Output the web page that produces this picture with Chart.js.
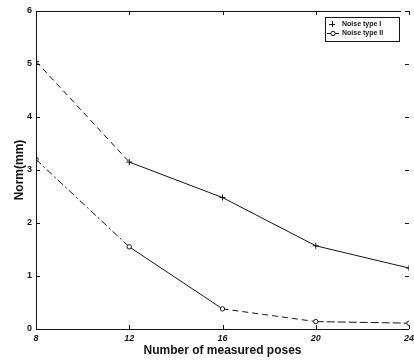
<!DOCTYPE html>
<html><head><meta charset="utf-8">
<script src="https://cdn.jsdelivr.net/npm/chart.js@4"></script>
<style>html,body{margin:0;padding:0;background:#fff}#wrap{width:414px;height:360px}</style>
</head><body><div id="wrap"><canvas id="c" width="414" height="360"></canvas></div>
<script>
const poses = [8, 12, 16, 20, 24];
const noiseTypeI = [5.05, 3.15, 2.48, 1.57, 1.15];
const noiseTypeII = [3.2, 1.55, 0.38, 0.14, 0.11];
const seriesNames = ['Noise type I', 'Noise type II'];
const yTicks = [0, 1, 2, 3, 4, 5, 6];
const xTicks = [8, 12, 16, 20, 24];

const INK = '#151515';
const F = 'Liberation Sans, Arial, sans-serif';

const dashI = [[6,4], [], [], []];
const dashII = [[7,3,2,3], [], [6,4], [8,3]];

const framePlugin = {
  id: 'frame',
  afterDatasetsDraw(chart) {
    const {ctx, chartArea: a, scales: {x, y}} = chart;
    ctx.save();
    ctx.strokeStyle = INK; ctx.lineWidth = 1;
    ctx.beginPath();
    ctx.moveTo(a.left + 0.5, a.bottom + 0.5); ctx.lineTo(a.left + 0.5, a.top + 0.5);
    ctx.lineTo(a.right - 8, a.top + 0.5);
    ctx.moveTo(a.left, a.bottom + 0.5); ctx.lineTo(a.right, a.bottom + 0.5);
    const L = 4;
    xTicks.forEach(v => {
      const px = Math.round(x.getPixelForValue(v)) + 0.5;
      ctx.moveTo(px, a.bottom); ctx.lineTo(px, a.bottom - L);
      ctx.moveTo(px, a.top); ctx.lineTo(px, a.top + L);
    });
    yTicks.forEach(v => {
      const py = Math.round(y.getPixelForValue(v)) + 0.5;
      ctx.moveTo(a.left, py); ctx.lineTo(a.left + L, py);
      ctx.moveTo(a.right, py); ctx.lineTo(a.right - L, py);
    });
    ctx.stroke();

    // legend
    const bx = 325, by = 17, bw = 74, bh = 24;
    ctx.fillStyle = '#fff';
    ctx.fillRect(bx, by, bw, bh);
    ctx.strokeRect(bx + 0.5, by + 0.5, bw, bh);
    ctx.font = 'bold 7px ' + F;
    ctx.fillStyle = INK;
    ctx.textBaseline = 'middle';
    const r1 = by + 7, r2 = by + 16;
    ctx.beginPath();
    ctx.moveTo(332 - 3, r1 + 0.5); ctx.lineTo(332 + 3, r1 + 0.5);
    ctx.moveTo(332.5, r1 - 3); ctx.lineTo(332.5, r1 + 3);
    ctx.moveTo(327, r2 + 0.5); ctx.lineTo(339, r2 + 0.5);
    ctx.stroke();
    ctx.beginPath(); ctx.arc(333, r2 + 0.5, 2.2, 0, Math.PI * 2);
    ctx.fillStyle = '#fff'; ctx.fill(); ctx.stroke();
    ctx.fillStyle = INK;
    ctx.fillText(seriesNames[0], 342, r1);
    ctx.fillText(seriesNames[1], 342, r2);
    ctx.restore();
  }
};

new Chart(document.getElementById('c'), {
  type: 'line',
  data: {
    datasets: [
      {
        label: seriesNames[0],
        data: poses.map((p, i) => ({x: p, y: noiseTypeI[i]})),
        borderColor: INK, borderWidth: 1, backgroundColor: INK,
        pointStyle: 'cross', pointRadius: 3, pointBorderWidth: 1,
        tension: 0, fill: false,
        segment: { borderDash: c => dashI[c.p0DataIndex] }
      },
      {
        label: seriesNames[1],
        data: poses.map((p, i) => ({x: p, y: noiseTypeII[i]})),
        borderColor: INK, borderWidth: 1, backgroundColor: '#fff',
        pointStyle: 'circle', pointRadius: 2.2, pointBorderWidth: 1,
        tension: 0, fill: false,
        segment: { borderDash: c => dashII[c.p0DataIndex] }
      }
    ]
  },
  options: {
    responsive: false, animation: false,
    layout: { padding: { left: 0, right: 1, top: 11, bottom: 0 } },
    plugins: { legend: { display: false }, tooltip: { enabled: false } },
    scales: {
      x: {
        type: 'linear', min: 8, max: 24,
        afterBuildTicks: s => { s.ticks = xTicks.map(v => ({value: v})); },
        afterFit: s => { s.height = 31; s.paddingLeft = 0; s.paddingRight = 0; },
        grid: { display: false, drawTicks: false }, border: { display: false },
        ticks: { padding: 4, color: INK, maxRotation: 0, autoSkip: false,
                 font: { family: F, size: 9, style: 'italic', weight: 'bold' } },
        title: { display: true, text: 'Number of measured poses', color: INK,
                 font: { family: F, size: 12, weight: 'bold' }, padding: { top: 0, bottom: 2 } }
      },
      y: {
        min: 0, max: 6,
        afterBuildTicks: s => { s.ticks = yTicks.map(v => ({value: v})); },
        afterFit: s => { s.width = 36; s.paddingTop = 0; s.paddingBottom = 0; },
        grid: { display: false, drawTicks: false }, border: { display: false },
        ticks: { padding: 4, color: INK,
                 font: { family: F, size: 9, weight: 'bold' } },
        title: { display: true, text: 'Norm(mm)', color: INK,
                 font: { family: F, size: 12, weight: 'bold' }, padding: { top: 12, bottom: 0 } }
      }
    }
  },
  plugins: [framePlugin]
});
</script></body></html>
